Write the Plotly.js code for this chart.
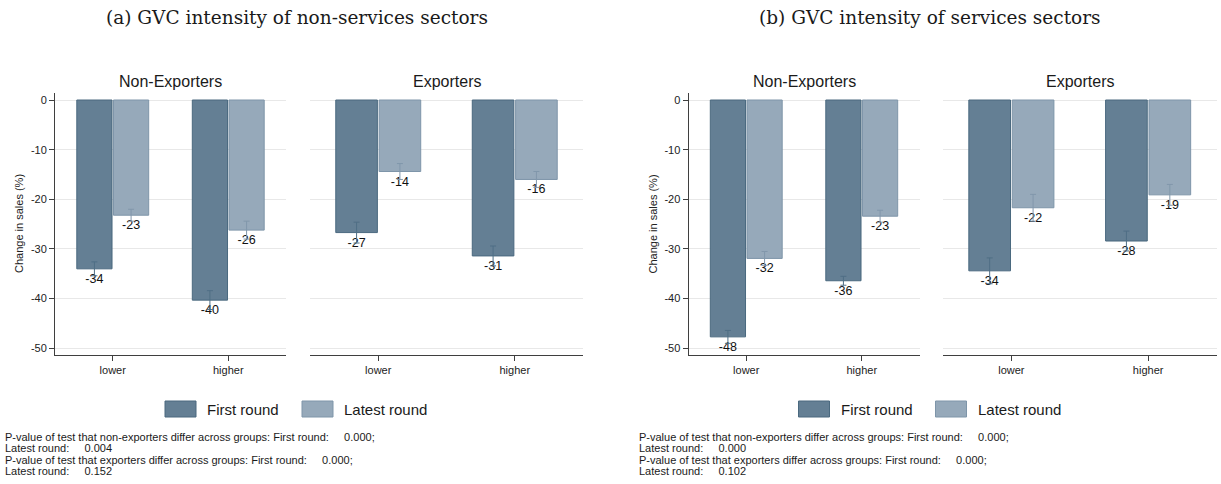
<!DOCTYPE html>
<html>
<head>
<meta charset="utf-8">
<script src="https://cdn.plot.ly/plotly-3.0.1.min.js"></script>
<style>html,body{margin:0;padding:0;background:#fff;}#chart{width:1221px;height:484px;}</style>
</head>
<body>
<div id="chart"></div>
<script>
// ---------- data ----------
const categories = ['lower', 'higher'];
const seriesNames = ['First round', 'Latest round'];
const facetTitles = ['Non-Exporters', 'Exporters'];
const panelTitles = ['(a) GVC intensity of non-services sectors', '(b) GVC intensity of services sectors'];
const yTickVals = [0, -10, -20, -30, -40, -50];
const yTickText = ['0', '-10', '-20', '-30', '-40', '-50'];
const yAxisTitle = 'Change in sales (%)';

// Panel (a): non-services sectors
const aNonExpFirst = [-34.0, -40.3];
const aNonExpFirstCI = [1.4, 1.9];
const aNonExpLatest = [-23.2, -26.2];
const aNonExpLatestCI = [1.2, 1.8];
const aExpFirst = [-26.7, -31.4];
const aExpFirstCI = [2.1, 2.0];
const aExpLatest = [-14.4, -16.0];
const aExpLatestCI = [1.6, 1.6];

// Panel (b): services sectors
const bNonExpFirst = [-47.7, -36.4];
const bNonExpFirstCI = [1.3, 0.9];
const bNonExpLatest = [-31.9, -23.4];
const bNonExpLatestCI = [1.4, 1.2];
const bExpFirst = [-34.4, -28.4];
const bExpFirstCI = [2.6, 2.0];
const bExpLatest = [-21.7, -19.1];
const bExpLatestCI = [2.7, 2.1];

const notesA = [
  'P-value of test that non-exporters differ across groups: First round:\u00a0\u00a0\u00a0\u00a0\u00a00.000;',
  'Latest round:\u00a0\u00a0\u00a0\u00a0\u00a00.004',
  'P-value of test that exporters differ across groups: First round:\u00a0\u00a0\u00a0\u00a0\u00a00.000;',
  'Latest round:\u00a0\u00a0\u00a0\u00a0\u00a00.152'
];
const notesB = [
  'P-value of test that non-exporters differ across groups: First round:\u00a0\u00a0\u00a0\u00a0\u00a00.000;',
  'Latest round:\u00a0\u00a0\u00a0\u00a0\u00a00.000',
  'P-value of test that exporters differ across groups: First round:\u00a0\u00a0\u00a0\u00a0\u00a00.000;',
  'Latest round:\u00a0\u00a0\u00a0\u00a0\u00a00.102'
];

// ---------- styling ----------
const W = 1221, H = 484;
const FONT = 'Liberation Sans, Arial, Helvetica, sans-serif';
const SERIF = 'DejaVu Serif, Liberation Serif, serif';
const colFill = ['#647f94', '#96a9ba'];
const colLine = ['#4a697f', '#7e95a9'];
const colErr = ['#4f6e85', '#8197ab'];
const AXC = '#3f3f3f';
const px = x => x / W;
const py = y => 1 - y / H;

const facets = [
  {sfx: '',  first: aNonExpFirst, firstCI: aNonExpFirstCI, latest: aNonExpLatest, latestCI: aNonExpLatestCI, dom: [55, 286]},
  {sfx: '2', first: aExpFirst, firstCI: aExpFirstCI, latest: aExpLatest, latestCI: aExpLatestCI, dom: [310, 583]},
  {sfx: '3', first: bNonExpFirst, firstCI: bNonExpFirstCI, latest: bNonExpLatest, latestCI: bNonExpLatestCI, dom: [688.5, 919.5]},
  {sfx: '4', first: bExpFirst, firstCI: bExpFirstCI, latest: bExpLatest, latestCI: bExpLatestCI, dom: [943, 1216.5]}
];

const label = v => String(Math.round(v));
const traces = [];
facets.forEach(f => {
  [[f.first, f.firstCI], [f.latest, f.latestCI]].forEach((s, k) => {
    traces.push({
      type: 'bar',
      name: seriesNames[k],
      x: categories,
      y: s[0],
      xaxis: 'x' + f.sfx,
      yaxis: 'y' + f.sfx,
      marker: {color: colFill[k], line: {color: colLine[k], width: 1}},
      error_y: {type: 'data', array: s[1], visible: true, color: colErr[k], thickness: 1, width: 3},
      text: s[0].map(label),
      textposition: 'outside',
      textfont: {family: FONT, size: 12.5, color: '#111'},
      cliponaxis: false,
      showlegend: false,
      hoverinfo: 'x+y'
    });
  });
});

const layout = {
  width: W, height: H,
  margin: {l: 0, r: 0, t: 0, b: 0},
  paper_bgcolor: '#ffffff',
  plot_bgcolor: '#ffffff',
  font: {family: FONT, color: '#222'},
  barmode: 'group',
  bargap: 0.365,
  bargroupgap: 0.04,
  showlegend: false,
  annotations: [],
  shapes: []
};

const yDom = [py(355), py(93)];
facets.forEach((f, i) => {
  const left = (i % 2 === 0);
  layout['xaxis' + f.sfx] = {
    domain: [px(f.dom[0]), px(f.dom[1])],
    anchor: 'y' + f.sfx,
    type: 'category',
    range: [-0.5, 1.5],
    showline: true, linecolor: AXC, linewidth: 1,
    ticks: 'outside', ticklen: 5, tickcolor: AXC, tickwidth: 1,
    tickfont: {family: FONT, size: 11, color: '#222'},
    showgrid: false, zeroline: false, fixedrange: true
  };
  layout['yaxis' + f.sfx] = {
    domain: yDom,
    anchor: 'x' + f.sfx,
    range: [-51.35, 1.41],
    tickmode: 'array', tickvals: yTickVals, ticktext: yTickText,
    showgrid: true, gridcolor: '#e8e8e8', gridwidth: 1,
    zeroline: false,
    showline: left, linecolor: AXC, linewidth: 1,
    ticks: left ? 'outside' : '', ticklen: 5, tickcolor: AXC, tickwidth: 1,
    showticklabels: left,
    tickfont: {family: FONT, size: 11, color: '#222'},
    fixedrange: true
  };
  // facet title
  layout.annotations.push({
    text: facetTitles[i % 2], xref: 'paper', yref: 'paper',
    x: px((f.dom[0] + f.dom[1]) / 2), y: py(81), xanchor: 'center', yanchor: 'middle',
    showarrow: false, font: {family: FONT, size: 16, color: '#1a1a1a'}
  });
});

// panels: titles, y-axis titles, legends, notes
[0, 1].forEach(p => {
  const off = p * 633.5;
  layout.annotations.push({
    text: panelTitles[p], xref: 'paper', yref: 'paper',
    x: px(297 + off), y: py(18), xanchor: 'center', yanchor: 'middle',
    showarrow: false, font: {family: SERIF, size: 18.5, color: '#1a1a1a'}
  });
  layout.annotations.push({
    text: yAxisTitle, xref: 'paper', yref: 'paper', textangle: -90,
    x: px(19 + off), y: py(224), xanchor: 'center', yanchor: 'middle',
    showarrow: false, font: {family: FONT, size: 11, color: '#222'}
  });
  const sw = [165, 302], tx = [205, 342];
  [0, 1].forEach(k => {
    layout.shapes.push({
      type: 'rect', xref: 'paper', yref: 'paper',
      x0: px(sw[k] + off), x1: px(sw[k] + 31 + off), y0: py(417), y1: py(401),
      fillcolor: colFill[k], line: {color: colLine[k], width: 1}
    });
    layout.annotations.push({
      text: seriesNames[k], xref: 'paper', yref: 'paper',
      x: px(tx[k] + off), y: py(409), xanchor: 'left', yanchor: 'middle',
      showarrow: false, font: {family: FONT, size: 15, color: '#1a1a1a'}
    });
  });
  const notes = p === 0 ? notesA : notesB;
  const ny = [436.5, 448, 459.5, 471];
  notes.forEach((t, j) => {
    layout.annotations.push({
      text: t, xref: 'paper', yref: 'paper',
      x: px(3 + off), y: py(ny[j]), xanchor: 'left', yanchor: 'middle',
      showarrow: false, font: {family: FONT, size: 11, color: '#1a1a1a'}
    });
  });
});

Plotly.newPlot('chart', traces, layout, {displayModeBar: false, staticPlot: true});
</script>
</body>
</html>
